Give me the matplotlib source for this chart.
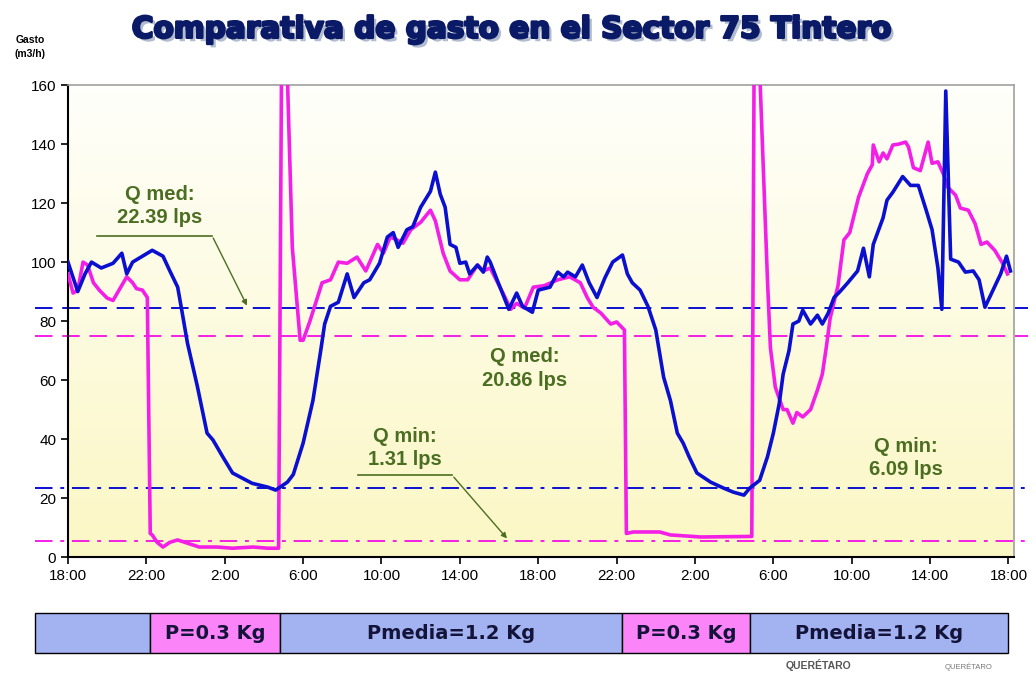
import numpy as np
import matplotlib
matplotlib.use("Agg")
import matplotlib.pyplot as plt
import matplotlib.patheffects as pe
from matplotlib.colors import LinearSegmentedColormap

# Gasto medido (m3/h) vs horas desde las 18:00
horas_azul = [0, 0.5, 0.87, 1.2, 1.7, 2.3, 2.75, 3.0, 3.3, 3.8, 4.3, 4.85, 5.2, 5.6, 5.8,
              6.1, 6.6, 7.1, 7.4, 7.9, 8.4, 9.4, 10.2, 10.6, 11.2, 11.5, 12.0, 12.5, 12.9,
              13.1, 13.4, 13.8, 14.25, 14.6, 15.1, 15.4, 15.9, 16.3, 16.6, 16.85, 17.3,
              17.6, 18.0, 18.5, 18.75, 19.0, 19.25, 19.5, 19.8, 20.0, 20.3, 20.5, 20.9,
              21.2, 21.4, 21.55, 21.96, 22.5, 22.9, 23.2, 23.7, 24.0, 24.6, 25.0, 25.3,
              25.5, 25.9, 26.25, 26.6, 27.0, 27.4, 27.8, 28.3, 28.55, 28.8, 29.2, 29.6,
              30.0, 30.4, 30.75, 31.1, 31.4, 31.7, 32.1, 32.8, 33.45, 33.96, 34.5, 34.8,
              35.3, 35.7, 36.0, 36.3, 36.5, 36.8, 37.0, 37.3, 37.5, 37.9, 38.25, 38.5,
              38.8, 39.1, 39.4, 39.8, 40.3, 40.6, 40.9, 41.1, 41.6, 41.8, 42.1, 42.6,
              43.0, 43.4, 43.8, 44.1, 44.4, 44.6, 44.8, 45.05, 45.45, 45.8, 46.2, 46.5,
              46.8, 47.6, 47.9, 48.1]
gasto_azul = [100, 90, 96, 100, 98, 99.6, 103, 96, 100, 102, 104, 102, 97, 91.5, 84,
              72.5, 58, 42, 39.7, 34, 28.5, 25, 23.7, 22.7, 25.4, 28, 38.6, 53, 70,
              79, 85, 86.4, 96, 88, 93, 94, 99.6, 108.5, 110, 105, 111,
              112, 118.6, 124, 130.5, 123, 118.6, 106, 105, 99.6, 100, 96, 99,
              96.6, 101.7, 100, 93, 84, 89.5, 85, 83, 90.5, 91.5, 96.6, 95,
              96.6, 95, 99, 93, 88, 94.6, 100, 102.4, 96, 93, 90.5, 85,
              77, 61, 53, 42, 38.6, 34, 28.5, 25.4, 23.4, 22, 21, 23.4,
              26, 34, 42, 52, 62, 70, 79, 80, 83.7, 79, 82, 79,
              82.7, 88, 90, 93, 97, 104.7, 95, 106, 115, 121, 123.7, 129,
              126, 126, 117.6, 111, 98, 84, 158, 101, 100, 96.6, 97, 94,
              84.7, 96, 102, 97]

horas_rosa = [0, 0.26, 0.5, 0.77, 1.0, 1.3, 1.6, 2.0, 2.3, 2.65, 3.0, 3.3, 3.5, 3.8, 4.05,
              4.2, 4.3, 4.55, 4.85, 5.2, 5.6, 6.1, 6.7, 7.6, 8.4, 9.45, 10.2, 10.75,
              10.95, 11.45, 11.85, 12.0, 12.35, 12.97, 13.4, 13.8, 14.25, 14.75, 15.2,
              15.8, 16.1, 16.45, 16.8, 17.1, 17.5, 18.0, 18.5, 18.75, 19.15, 19.5, 20.0,
              20.4, 20.9, 21.2, 21.55, 22.2, 22.6, 22.9, 23.3, 23.75, 24.3, 25.0, 25.6,
              26.15, 26.5, 26.8, 27.2, 27.7, 28.0, 28.4, 28.5, 28.85, 30.2, 30.75, 32.3,
              34.9, 35.05, 35.7, 35.85, 36.1, 36.5, 36.7, 37.0, 37.2, 37.5, 37.9, 38.25,
              38.5, 38.7, 38.9, 39.3, 39.6, 39.9, 40.35, 40.8, 41.05, 41.1, 41.4, 41.6,
              41.8, 42.1, 42.4, 42.75, 42.9, 43.15, 43.5, 43.9, 44.1, 44.4, 44.7, 44.9,
              45.3, 45.55, 45.95, 46.3, 46.6, 46.9, 47.3, 47.7, 47.95]
gasto_rosa = [96, 89.5, 90.5, 100, 99, 93, 90.5, 87.8, 87, 91, 95, 93, 91, 90.5, 88,
              8, 7.5, 5, 3.4, 5, 5.8, 4.7, 3.4, 3.4, 3, 3.4, 3, 3,
              220, 105, 73.5, 73.5, 80, 93, 94, 100, 99.6, 101.7, 97,
              106, 103, 108.5, 107.5, 106.4, 111, 113.5, 117.6, 114, 103, 97, 94,
              94, 99, 97, 98, 89.5, 84, 86, 84.4, 91.5, 92, 94, 95,
              93, 88, 84.7, 82.7, 79, 79.7, 77, 8, 8.5, 8.5, 7.5, 6.8,
              7, 210, 94, 71, 57.6, 50, 50, 45.4, 49, 47.5, 50, 56.6,
              62, 71, 81, 92, 107.5, 110, 122, 130, 133, 139.7, 134, 137,
              135, 139.7, 140, 140.7, 139, 132, 131, 140.7, 133.5, 134, 129.5, 125.4,
              122.7, 118.3, 117.6, 113, 106, 106.8, 104, 99.6, 96]

# niveles de referencia (m3/h)
q_med_azul = 84.5
q_med_rosa = 75.1
q_min_azul = 23.4
q_min_rosa = 5.4

ticks_h = list(range(0, 49, 4))
ticks_lbl = ['18:00', '22:00', '2:00', '6:00', '10:00', '14:00', '18:00',
             '22:00', '2:00', '6:00', '10:00', '14:00', '18:00']

# franjas de presion
zonas_ini = [-1.7, 4.2, 10.83, 28.3, 34.83]
zonas_fin = [4.2, 10.83, 28.3, 34.83, 48.0]
zonas_txt = ['', 'P=0.3 Kg', 'Pmedia=1.2 Kg', 'P=0.3 Kg', 'Pmedia=1.2 Kg']
zonas_col = ['#a3b3f2', '#fb84f8', '#a3b3f2', '#fb84f8', '#a3b3f2']

AZUL = '#0a0fd0'
ROSA = '#f41fe6'
VERDE = '#4b6e22'

fig = plt.figure(figsize=(10.36, 6.81), dpi=100)
ax = fig.add_axes([0.0656, 0.182, 0.9135, 0.693])
xmax = 48.3
ax.set_xlim(0, xmax)
ax.set_ylim(0, 160)

# fondo degradado blanco -> amarillo
grad = np.linspace(1, 0, 256).reshape(-1, 1)
cmap = LinearSegmentedColormap.from_list('fondo', ['#fbf7c4', '#fffffb'])
ax.imshow(grad, extent=[0, xmax, 0, 160], aspect='auto', cmap=cmap, zorder=0, origin='upper')

# lineas de referencia
ext = [-1.7, 49.0]
ax.plot(ext, [q_med_azul] * 2, color=AZUL, lw=1.4, dashes=(9, 5), clip_on=False, zorder=2)
ax.plot(ext, [q_med_rosa] * 2, color=ROSA, lw=1.4, dashes=(9, 5), clip_on=False, zorder=2)
ax.plot(ext, [q_min_azul] * 2, color=AZUL, lw=1.4, dashes=(9, 4, 2, 4), clip_on=False, zorder=2)
ax.plot(ext, [q_min_rosa] * 2, color=ROSA, lw=1.4, dashes=(9, 4, 2, 4), clip_on=False, zorder=2)

ax.plot(horas_rosa, gasto_rosa, color=ROSA, lw=2.6, zorder=3)
ax.plot(horas_azul, gasto_azul, color=AZUL, lw=2.6, zorder=4)

# ejes
ax.set_xticks(ticks_h)
ax.set_xticklabels(ticks_lbl)
ax.set_yticks(range(0, 161, 20))
ax.tick_params(direction='out', length=5, width=1.2, labelsize=11, colors='black')
for lbl in ax.get_xticklabels() + ax.get_yticklabels():
    lbl.set_fontfamily('Liberation Sans')
ax.spines['left'].set_linewidth(1.5)
ax.spines['bottom'].set_linewidth(1.5)
for s in ['top', 'right']:
    ax.spines[s].set_color('#a0a0a0')
    ax.spines[s].set_linewidth(1.2)

# anotaciones
fnt = dict(color=VERDE, fontsize=14.5, fontweight='bold', family='Liberation Sans',
           ha='center', va='center', linespacing=1.3, zorder=6)
ax.text(4.7, 119, 'Q med:\n22.39 lps', **fnt)
ax.plot([1.5, 7.35], [109, 109], color=VERDE, lw=1.2, zorder=6)
ax.annotate('', xy=(9.2, 84.4), xytext=(7.35, 109),
            arrowprops=dict(arrowstyle='-|>', color=VERDE, lw=1, mutation_scale=8), zorder=6)
ax.text(23.3, 64, 'Q med:\n20.86 lps', **fnt)
ax.text(17.2, 37, 'Q min:\n1.31 lps', **fnt)
ax.plot([14.8, 19.6], [27.8, 27.8], color=VERDE, lw=1.2, zorder=6)
ax.annotate('', xy=(22.5, 5.6), xytext=(19.6, 27.8),
            arrowprops=dict(arrowstyle='-|>', color=VERDE, lw=1, mutation_scale=8), zorder=6)
ax.text(42.75, 33.5, 'Q min:\n6.09 lps', **fnt)

# titulo y etiqueta del eje
fig.text(0.494, 0.957, 'Comparativa de gasto en el Sector 75 Tintero', ha='center', va='center',
         fontsize=21.3, fontweight='bold', family='DejaVu Sans', color='#0b1a66',
         path_effects=[pe.withSimplePatchShadow(offset=(2.5, -2.5), shadow_rgbFace='#8090b0', alpha=0.6),
                       pe.withStroke(linewidth=1.8, foreground='#0b1a66')])
fig.text(0.029, 0.931, 'Gasto\n(m3/h)', ha='center', va='center', fontsize=7.5,
         fontweight='bold', family='Liberation Sans', linespacing=1.5)

# barra de presiones
bx = fig.add_axes([0.0656, 0.041, 0.9135, 0.0587])
bx.set_xlim(0, xmax)
bx.set_ylim(0, 1)
bx.axis('off')
for ini, fin, txt, col in zip(zonas_ini, zonas_fin, zonas_txt, zonas_col):
    bx.bar(ini, 1, width=fin - ini, align='edge', color=col, edgecolor='black',
           linewidth=1.0, clip_on=False)
    if txt:
        bx.text((ini + fin) / 2, 0.5, txt, ha='center', va='center', fontsize=14,
                fontweight='bold', family='DejaVu Sans', color='#14143a')

fig.text(0.79, 0.023, 'QUERÉTARO', ha='center', va='center', fontsize=7.5,
         fontweight='bold', color='#555555', family='Liberation Sans')
fig.text(0.935, 0.021, 'QUERÉTARO', ha='center', va='center', fontsize=5.5,
         color='#777777', family='Liberation Sans')

fig.savefig('out.png', dpi=100)
